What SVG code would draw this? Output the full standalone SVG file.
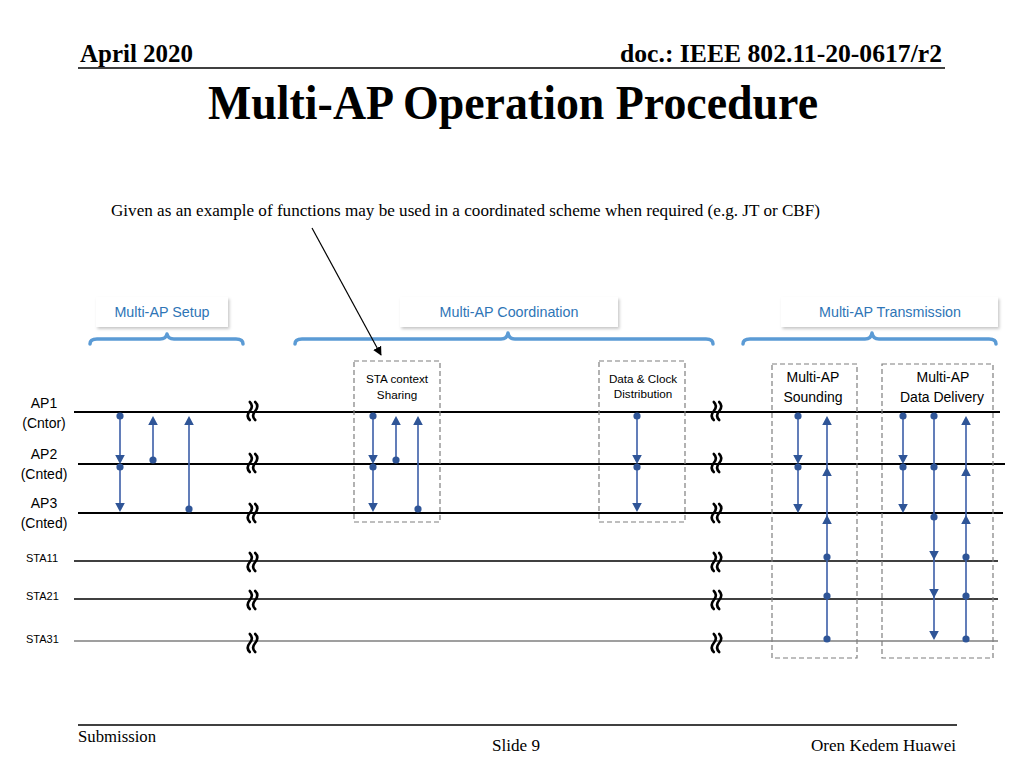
<svg xmlns="http://www.w3.org/2000/svg" xmlns:xlink="http://www.w3.org/1999/xlink" width="1024" height="768" viewBox="0 0 1024 768">
<style>
.serif{font-family:"Liberation Serif","Times New Roman",serif;fill:#000}
.sans{font-family:"Liberation Sans",Arial,sans-serif;fill:#000}
.lbl{font-family:"Liberation Sans",Arial,sans-serif;font-size:14.3px;fill:#2E75B6;text-anchor:middle}
.lblbox{fill:#fff;filter:url(#sh)}
.brace{fill:none;stroke:#5B9BD5;stroke-width:3.5;stroke-linecap:round;stroke-linejoin:round}
.ap{stroke:#000;stroke-width:2}
.sta{stroke:#000;stroke-width:1.3}
.dash{fill:none;stroke:#7f7f7f;stroke-width:1.2;stroke-dasharray:5,3}
.conn{stroke:#3B5EA8;stroke-width:1.6}
.blue{fill:#2F5597}
.brk{fill:none;stroke:#000;stroke-width:2.6;stroke-linecap:round}
.box{font-family:"Liberation Sans",Arial,sans-serif;font-size:11.7px;fill:#000;text-anchor:middle}
</style>
<defs>
<filter id="sh" x="-10%" y="-30%" width="125%" height="170%">
<feDropShadow dx="1.5" dy="2" stdDeviation="1.5" flood-color="#000" flood-opacity="0.22"/>
</filter>
<circle id="dot" r="3.6" class="blue"/>
<path id="ad" d="M-4.8,-9 L4.8,-9 L0,0 Z" class="blue"/>
<path id="au" d="M-4.8,9 L4.8,9 L0,0 Z" class="blue"/>
<g id="brk"><path d="M-2.2,-9 q4.2,4 0,9 q-4.2,5 0,9" class="brk"/><path d="M3.2,-9 q4.2,4 0,9 q-4.2,5 0,9" class="brk"/></g>
<marker id="blk" viewBox="0 0 10 10" refX="9" refY="5" markerWidth="9" markerHeight="9" orient="auto" markerUnits="userSpaceOnUse"><path d="M0,0 L10,5 L0,10 Z" fill="#000"/></marker>
</defs>
<rect width="1024" height="768" fill="#fff"/>

<g id="header">
<text x="80" y="62" class="serif" font-size="25" font-weight="bold" textLength="113" lengthAdjust="spacingAndGlyphs">April 2020</text>
<text x="620" y="62" class="serif" font-size="25" font-weight="bold" textLength="322" lengthAdjust="spacingAndGlyphs">doc.: IEEE 802.11-20-0617/r2</text>
<line x1="78" y1="68" x2="945" y2="68" stroke="#000" stroke-width="1.5"/>
<text x="208" y="119" class="serif" font-size="48" font-weight="bold" textLength="610" lengthAdjust="spacingAndGlyphs">Multi-AP Operation Procedure</text>
</g>

<g id="note">
<text x="111" y="216" class="serif" font-size="16.5" textLength="709" lengthAdjust="spacingAndGlyphs">Given as an example of functions may be used in a coordinated scheme when required (e.g. JT or CBF)</text>
</g>

<g id="phase-setup">
<rect x="96" y="297" width="132" height="30" class="lblbox"/>
<text x="162" y="317" class="lbl">Multi-AP Setup</text>
<path class="brace" d="M90,344 Q90,339 97,339 L160,339 Q166,339 167,334 Q168,339 174,339 L236,339 Q243,339 243,344"/>
</g>
<g id="phase-coordination">
<rect x="400" y="297" width="218" height="30" class="lblbox"/>
<text x="509" y="317" class="lbl">Multi-AP Coordination</text>
<path class="brace" d="M295,344 Q295,339 302,339 L501,339 Q507,339 508,333 Q509,339 515,339 L706,339 Q713,339 713,344"/>
</g>
<g id="phase-transmission">
<rect x="781" y="297" width="217" height="30" class="lblbox"/>
<text x="890" y="317" class="lbl">Multi-AP Transmission</text>
<path class="brace" d="M743,344 Q743,339 750,339 L865,339 Q871,339 872,333 Q873,339 879,339 L989,339 Q996,339 996,344"/>
</g>

<g id="timelines">
<line x1="74" y1="412" x2="1000" y2="412" class="ap"/>
<line x1="78" y1="464" x2="1005" y2="464" class="ap"/>
<line x1="78" y1="513" x2="1003" y2="513" class="ap"/>
<line x1="74" y1="561" x2="998" y2="561" class="sta"/>
<line x1="74" y1="599" x2="998" y2="599" class="sta"/>
<line x1="74" y1="641" x2="998" y2="641" stroke="#7f7f7f" stroke-width="1.6"/>
<g id="breaks">
<use href="#brk" x="252" y="411"/><use href="#brk" x="716" y="411"/>
<use href="#brk" x="252" y="463"/><use href="#brk" x="716" y="463"/>
<use href="#brk" x="252" y="513"/><use href="#brk" x="716" y="513"/>
<use href="#brk" x="252" y="562"/><use href="#brk" x="716" y="562"/>
<use href="#brk" x="252" y="600"/><use href="#brk" x="716" y="600"/>
<use href="#brk" x="252" y="643"/><use href="#brk" x="716" y="643"/>
</g>
</g>

<g id="labels" class="sans" font-size="14" text-anchor="middle">
<text x="44" y="408">AP1</text><text x="44" y="428">(Cntor)</text>
<text x="44" y="459">AP2</text><text x="44" y="479">(Cnted)</text>
<text x="44" y="508">AP3</text><text x="44" y="528">(Cnted)</text>
</g>
<g id="sta-labels" class="sans" font-size="11">
<text x="26" y="562">STA11</text>
<text x="26" y="600">STA21</text>
<text x="26" y="643">STA31</text>
</g>

<g id="box-sta-context">
<rect x="354" y="361" width="86" height="161" class="dash"/>
<text x="397" y="383" class="box">STA context</text>
<text x="397" y="399" class="box">Sharing</text>
</g>
<g id="box-data-clock">
<rect x="599" y="361" width="86" height="161" class="dash"/>
<text x="643" y="383" class="box">Data &amp; Clock</text>
<text x="643" y="398" class="box">Distribution</text>
</g>
<g id="box-sounding">
<rect x="772" y="364" width="85" height="294" class="dash"/>
<text x="813" y="382" class="sans" font-size="14" text-anchor="middle">Multi-AP</text>
<text x="813" y="402" class="sans" font-size="14" text-anchor="middle">Sounding</text>
</g>
<g id="box-data-delivery">
<rect x="882" y="364" width="111" height="294" class="dash"/>
<text x="943" y="382" class="sans" font-size="14" text-anchor="middle">Multi-AP</text>
<text x="942" y="402" class="sans" font-size="14" text-anchor="middle">Data Delivery</text>
</g>

<g id="connectors">
<line x1="312" y1="228" x2="381" y2="355" stroke="#000" stroke-width="1.2" marker-end="url(#blk)"/>
<line x1="120" y1="416" x2="120" y2="456" class="conn"/><use href="#dot" x="120" y="416"/><use href="#ad" x="120" y="464"/>
<line x1="120" y1="467" x2="120" y2="504" class="conn"/><use href="#dot" x="120" y="467"/><use href="#ad" x="120" y="512"/>
<line x1="153" y1="460" x2="153" y2="424" class="conn"/><use href="#dot" x="153" y="460"/><use href="#au" x="153" y="416"/>
<line x1="189" y1="509" x2="189" y2="424" class="conn"/><use href="#dot" x="189" y="509"/><use href="#au" x="189" y="416"/>
<line x1="373" y1="416" x2="373" y2="456" class="conn"/><use href="#dot" x="373" y="416"/><use href="#ad" x="373" y="464"/>
<line x1="373" y1="467" x2="373" y2="504" class="conn"/><use href="#dot" x="373" y="467"/><use href="#ad" x="373" y="512"/>
<line x1="396" y1="460" x2="396" y2="424" class="conn"/><use href="#dot" x="396" y="460"/><use href="#au" x="396" y="416"/>
<line x1="418" y1="509" x2="418" y2="424" class="conn"/><use href="#dot" x="418" y="509"/><use href="#au" x="418" y="416"/>
<line x1="637" y1="416" x2="637" y2="456" class="conn"/><use href="#dot" x="637" y="416"/><use href="#ad" x="637" y="464"/>
<line x1="637" y1="467" x2="637" y2="504" class="conn"/><use href="#dot" x="637" y="467"/><use href="#ad" x="637" y="512"/>
<line x1="798" y1="416" x2="798" y2="456" class="conn"/><use href="#dot" x="798" y="416"/><use href="#ad" x="798" y="464"/>
<line x1="798" y1="467" x2="798" y2="504" class="conn"/><use href="#dot" x="798" y="467"/><use href="#ad" x="798" y="513"/>
<line x1="827" y1="639" x2="827" y2="420" class="conn"/>
<use href="#au" x="827" y="416"/><use href="#au" x="827" y="467"/><use href="#au" x="827" y="515"/>
<use href="#dot" x="827" y="557"/><use href="#dot" x="827" y="596"/><use href="#dot" x="827" y="639"/>
<line x1="903" y1="416" x2="903" y2="456" class="conn"/><use href="#dot" x="903" y="416"/><use href="#ad" x="903" y="464"/>
<line x1="903" y1="467" x2="903" y2="504" class="conn"/><use href="#dot" x="903" y="467"/><use href="#ad" x="903" y="513"/>
<line x1="934" y1="416" x2="934" y2="634" class="conn"/>
<use href="#dot" x="934" y="416"/><use href="#dot" x="934" y="467"/><use href="#dot" x="934" y="517"/>
<use href="#ad" x="934" y="560"/><use href="#ad" x="934" y="598"/><use href="#ad" x="934" y="640"/>
<line x1="966" y1="639" x2="966" y2="420" class="conn"/>
<use href="#au" x="966" y="416"/><use href="#au" x="966" y="467"/><use href="#au" x="966" y="515"/>
<use href="#dot" x="966" y="557"/><use href="#dot" x="966" y="596"/><use href="#dot" x="966" y="639"/>
</g>

<g id="footer">
<line x1="78" y1="725" x2="957" y2="725" stroke="#000" stroke-width="1.5"/>
<text x="78" y="742" class="serif" font-size="16" textLength="78" lengthAdjust="spacingAndGlyphs">Submission</text>
<text x="492" y="751" class="serif" font-size="16" textLength="48" lengthAdjust="spacingAndGlyphs">Slide 9</text>
<text x="811" y="751" class="serif" font-size="16" textLength="145" lengthAdjust="spacingAndGlyphs">Oren Kedem Huawei</text>
</g>
</svg>
